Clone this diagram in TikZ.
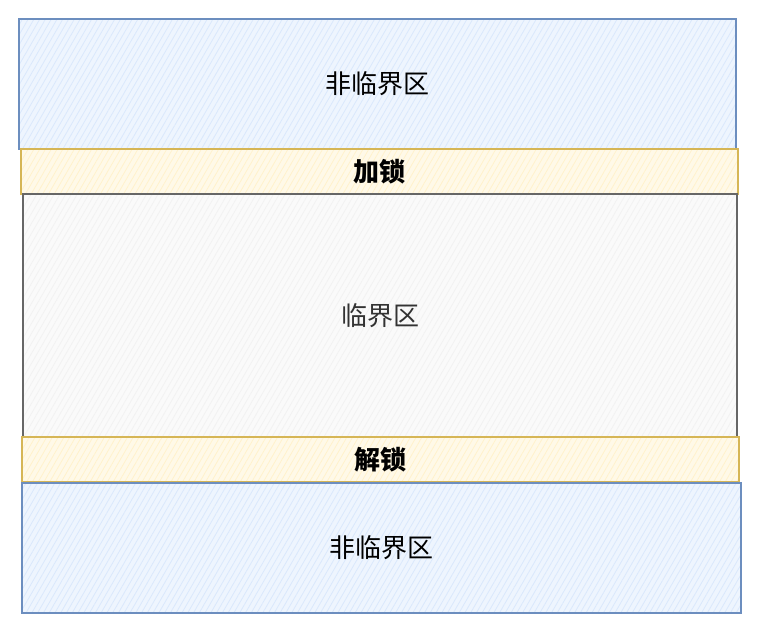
\documentclass[tikz,border=0pt]{standalone}
\usepackage{fontspec}
\newfontfamily\cjk{Noto Sans CJK SC}
\usetikzlibrary{patterns.meta}
\definecolor{bluefill}{HTML}{DAE8FC}
\definecolor{bluestroke}{HTML}{6C8EBF}
\definecolor{yelfill}{HTML}{FFF2CC}
\definecolor{yelstroke}{HTML}{D6B656}
\definecolor{grayfill}{HTML}{F5F5F5}
\definecolor{graystroke}{HTML}{666666}
\definecolor{txtgray}{HTML}{333333}
\tikzset{
  region/.style={draw, line width=1.1pt, inner sep=0pt, outer sep=0pt, anchor=north west,
    font=\cjk\fontsize{26}{26}\selectfont},
  bluebox/.style={region, draw=bluestroke,
    preaction={fill=bluefill!45},
    preaction={pattern={Lines[angle=60,distance=5pt,line width=0.8pt]}, pattern color=bluefill}},
  yelbox/.style={region, draw=yelstroke,
    preaction={fill=yelfill!45},
    preaction={pattern={Lines[angle=60,distance=5pt,line width=0.8pt]}, pattern color=yelfill},
    font=\cjk\bfseries\fontsize{26}{26}\selectfont},
  graybox/.style={region, draw=graystroke, text=txtgray,
    preaction={fill=grayfill!50},
    preaction={pattern={Lines[angle=60,distance=5pt,line width=0.8pt]}, pattern color=grayfill!80!gray!40}},
}
\begin{document}
\begin{tikzpicture}[x=1pt,y=-1pt]
\useasboundingbox (0,0) rectangle (782,628);
\node[bluebox, minimum width=717pt, minimum height=130pt] (top) at (19,19) {非临界区};
\node[yelbox, minimum width=717pt, minimum height=45pt] (lock) at (21,149) {加锁};
\node[graybox, minimum width=714pt, minimum height=243pt] (crit) at (23,194) {临界区};
\node[yelbox, minimum width=717pt, minimum height=45pt] (unlock) at (22,437) {解锁};
\node[bluebox, minimum width=719pt, minimum height=130pt] (bot) at (22,483) {非临界区};
\end{tikzpicture}
\end{document}
